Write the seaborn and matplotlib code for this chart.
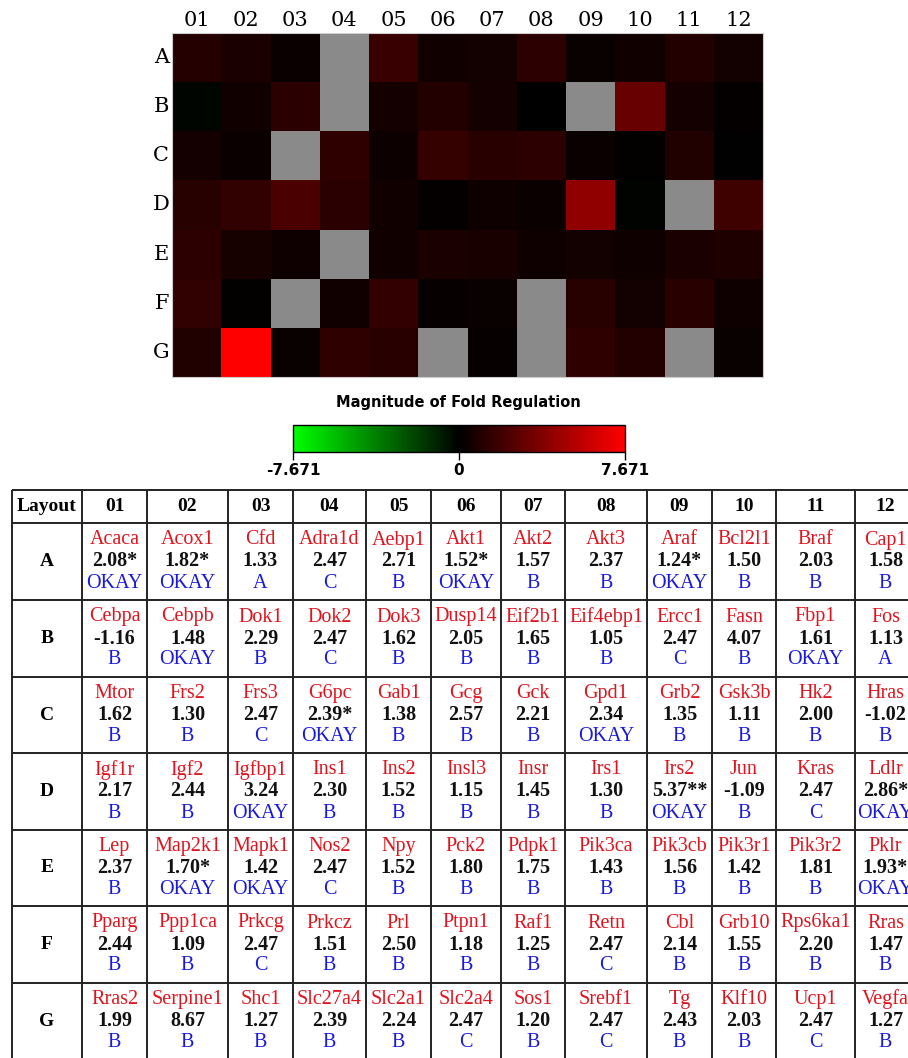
import numpy as np
import pandas as pd
import matplotlib
matplotlib.use("Agg")
import matplotlib.pyplot as plt
from matplotlib.colors import LinearSegmentedColormap, Normalize
from matplotlib.cm import ScalarMappable
import seaborn as sns

# plate layout
rows = ['A', 'B', 'C', 'D', 'E', 'F', 'G']
cols = ['01', '02', '03', '04', '05', '06', '07', '08', '09', '10', '11', '12']

genes_A = ['Acaca', 'Acox1', 'Cfd', 'Adra1d', 'Aebp1', 'Akt1', 'Akt2', 'Akt3', 'Araf', 'Bcl2l1', 'Braf', 'Cap1']
genes_B = ['Cebpa', 'Cebpb', 'Dok1', 'Dok2', 'Dok3', 'Dusp14', 'Eif2b1', 'Eif4ebp1', 'Ercc1', 'Fasn', 'Fbp1', 'Fos']
genes_C = ['Mtor', 'Frs2', 'Frs3', 'G6pc', 'Gab1', 'Gcg', 'Gck', 'Gpd1', 'Grb2', 'Gsk3b', 'Hk2', 'Hras']
genes_D = ['Igf1r', 'Igf2', 'Igfbp1', 'Ins1', 'Ins2', 'Insl3', 'Insr', 'Irs1', 'Irs2', 'Jun', 'Kras', 'Ldlr']
genes_E = ['Lep', 'Map2k1', 'Mapk1', 'Nos2', 'Npy', 'Pck2', 'Pdpk1', 'Pik3ca', 'Pik3cb', 'Pik3r1', 'Pik3r2', 'Pklr']
genes_F = ['Pparg', 'Ppp1ca', 'Prkcg', 'Prkcz', 'Prl', 'Ptpn1', 'Raf1', 'Retn', 'Cbl', 'Grb10', 'Rps6ka1', 'Rras']
genes_G = ['Rras2', 'Serpine1', 'Shc1', 'Slc27a4', 'Slc2a1', 'Slc2a4', 'Sos1', 'Srebf1', 'Tg', 'Klf10', 'Ucp1', 'Vegfa']

fold_A = [2.08, 1.82, 1.33, 2.47, 2.71, 1.52, 1.57, 2.37, 1.24, 1.50, 2.03, 1.58]
fold_B = [-1.16, 1.48, 2.29, 2.47, 1.62, 2.05, 1.65, 1.05, 2.47, 4.07, 1.61, 1.13]
fold_C = [1.62, 1.30, 2.47, 2.39, 1.38, 2.57, 2.21, 2.34, 1.35, 1.11, 2.00, -1.02]
fold_D = [2.17, 2.44, 3.24, 2.30, 1.52, 1.15, 1.45, 1.30, 5.37, -1.09, 2.47, 2.86]
fold_E = [2.37, 1.70, 1.42, 2.47, 1.52, 1.80, 1.75, 1.43, 1.56, 1.42, 1.81, 1.93]
fold_F = [2.44, 1.09, 2.47, 1.51, 2.50, 1.18, 1.25, 2.47, 2.14, 1.55, 2.20, 1.47]
fold_G = [1.99, 8.67, 1.27, 2.39, 2.24, 2.47, 1.20, 2.47, 2.43, 2.03, 2.47, 1.27]

# significance stars next to fold values
stars_A = ['*', '*', '', '', '', '*', '', '', '*', '', '', '']
stars_B = [''] * 12
stars_C = ['', '', '', '*', '', '', '', '', '', '', '', '']
stars_D = ['', '', '', '', '', '', '', '', '**', '', '', '*']
stars_E = ['', '*', '', '', '', '', '', '', '', '', '', '*']
stars_F = [''] * 12
stars_G = [''] * 12

status_A = ['OKAY', 'OKAY', 'A', 'C', 'B', 'OKAY', 'B', 'B', 'OKAY', 'B', 'B', 'B']
status_B = ['B', 'OKAY', 'B', 'C', 'B', 'B', 'B', 'B', 'C', 'B', 'OKAY', 'A']
status_C = ['B', 'B', 'C', 'OKAY', 'B', 'B', 'B', 'OKAY', 'B', 'B', 'B', 'B']
status_D = ['B', 'B', 'OKAY', 'B', 'B', 'B', 'B', 'B', 'OKAY', 'B', 'C', 'OKAY']
status_E = ['B', 'OKAY', 'OKAY', 'C', 'B', 'B', 'B', 'B', 'B', 'B', 'B', 'OKAY']
status_F = ['B', 'B', 'C', 'B', 'B', 'B', 'B', 'C', 'B', 'B', 'B', 'B']
status_G = ['B', 'B', 'B', 'B', 'B', 'C', 'B', 'C', 'B', 'B', 'C', 'B']

scale_limit = 7.671

genes = [genes_A, genes_B, genes_C, genes_D, genes_E, genes_F, genes_G]
folds = [fold_A, fold_B, fold_C, fold_D, fold_E, fold_F, fold_G]
stars = [stars_A, stars_B, stars_C, stars_D, stars_E, stars_F, stars_G]
status = [status_A, status_B, status_C, status_D, status_E, status_F, status_G]

W, H = 908, 1058
fig = plt.figure(figsize=(W / 100, H / 100), dpi=100)


def px_axes(x0, y0, x1, y1):
    # axes from pixel box (top-left origin)
    return fig.add_axes([x0 / W, 1 - y1 / H, (x1 - x0) / W, (y1 - y0) / H])


# magnitude of fold regulation: distance from 1 (no change)
fold_df = pd.DataFrame(folds, index=rows, columns=cols)
mag_df = np.sign(fold_df) * (fold_df.abs() - 1)
mask = pd.DataFrame(status, index=rows, columns=cols) == 'C'

cmap = LinearSegmentedColormap.from_list('gkr', ['#00ff00', '#000000', '#ff0000'])

ax_heat = px_axes(172, 33, 763, 377)
ax_heat.set_facecolor('#8a8a8a')
sns.heatmap(mag_df, mask=mask, cmap=cmap, vmin=-scale_limit, vmax=scale_limit,
            cbar=False, ax=ax_heat, linewidths=0)
ax_heat.xaxis.tick_top()
ax_heat.tick_params(length=0, pad=2)
ax_heat.set_xticklabels(cols, rotation=0, fontsize=15, family='DejaVu Serif')
ax_heat.set_yticklabels(rows, rotation=0, fontsize=15, family='DejaVu Serif')
ax_heat.set_xlabel('')
ax_heat.set_ylabel('')
for s in ax_heat.spines.values():
    s.set_visible(True)
    s.set_color('#cccccc')
    s.set_linewidth(0.8)

# colour key
ax_cb = px_axes(293, 425, 625, 452)
sm = ScalarMappable(norm=Normalize(-scale_limit, scale_limit), cmap=cmap)
cb = fig.colorbar(sm, cax=ax_cb, orientation='horizontal',
                  ticks=[-scale_limit, 0, scale_limit])
cb.ax.set_xticklabels(['-7.671', '0', '7.671'], fontsize=11, fontweight='bold')
cb.ax.tick_params(length=6, width=1, pad=2)
cb.outline.set_linewidth(1)
fig.text(458 / W, 1 - 403 / H, 'Magnitude of Fold Regulation', ha='center', va='center',
         fontsize=10.5, fontweight='bold')

# layout table
col_edges = [12, 82, 147, 228, 293, 366, 431, 501, 565, 647, 712, 776, 855, 916]
row_edges = [490, 523, 600, 677, 753, 830, 906, 983, 1059]

ax_tab = fig.add_axes([0, 0, 1, 1])
ax_tab.set_xlim(0, W)
ax_tab.set_ylim(H, 0)
ax_tab.axis('off')
ax_tab.hlines(row_edges, col_edges[0], col_edges[-1], color='#222222', lw=1.4)
ax_tab.vlines(col_edges, row_edges[0], row_edges[-1], color='#222222', lw=1.4)

serif = 'Liberation Serif'
xc = [(a + b) / 2 for a, b in zip(col_edges[:-1], col_edges[1:])]
yc = [(a + b) / 2 for a, b in zip(row_edges[:-1], row_edges[1:])]

ax_tab.text(xc[0], yc[0], 'Layout', ha='center', va='center', fontsize=14,
            fontweight='bold', family=serif)
for j, c in enumerate(cols):
    ax_tab.text(xc[j + 1], yc[0], c, ha='center', va='center', fontsize=14,
                fontweight='bold', family=serif)

for i, r in enumerate(rows):
    y = yc[i + 1]
    ax_tab.text(xc[0], y, r, ha='center', va='center', fontsize=14,
                fontweight='bold', family=serif)
    for j in range(len(cols)):
        x = xc[j + 1]
        ax_tab.text(x, y - 21.5, genes[i][j], ha='center', va='center', fontsize=14.5,
                    color='#e0141e', family=serif)
        ax_tab.text(x, y, f"{folds[i][j]:.2f}{stars[i][j]}", ha='center', va='center',
                    fontsize=14.5, fontweight='bold', color='#111111', family=serif)
        ax_tab.text(x, y + 21.5, status[i][j], ha='center', va='center', fontsize=14.5,
                    color='#1a1adc', family=serif)

plt.savefig('out.png', dpi=100)
plt.close()
